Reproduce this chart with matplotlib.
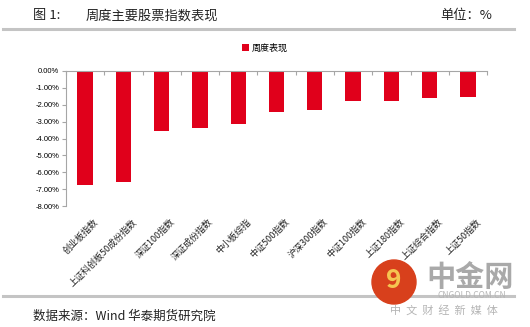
import matplotlib.pyplot as plt
from matplotlib.patches import Ellipse
from matplotlib.lines import Line2D

plt.rcParams['font.family'] = ['Noto Sans CJK SC', 'DejaVu Sans']

indices = ["创业板指数", "上证科创板50成份指数", "深证100指数", "深证成份指数", "中小板综指",
           "中证500指数", "沪深300指数", "中证100指数", "上证180指数", "上证综合指数", "上证50指数"]
weekly = [-6.75, -6.57, -3.55, -3.37, -3.14, -2.43, -2.31, -1.78, -1.78, -1.60, -1.54]
y_ticks = [0, -1, -2, -3, -4, -5, -6, -7, -8]

fig = plt.figure(figsize=(5.3, 3.27), dpi=100)
ax = fig.add_axes([0.1245, 0.37, 0.7945, 0.4129])

x = list(range(len(indices)))
bars = ax.bar(x, weekly, width=0.4, color="#e0001b", label="周度表现", zorder=2)

ax.set_xlim(-0.5, len(indices) - 0.5)
ax.set_ylim(-8, 0)
ax.set_yticks(y_ticks)
ax.set_yticklabels(["%.2f%%" % v for v in y_ticks], fontsize=5.5, family="Liberation Sans")

# x axis sits at 0 (top), ticks at category boundaries
ax.spines["bottom"].set_visible(False)
ax.spines["right"].set_visible(False)
ax.spines["top"].set_color("#a6a6a6")
ax.spines["left"].set_color("#a6a6a6")
ax.xaxis.tick_top()
ax.set_xticks([i - 0.5 for i in range(len(indices) + 1)])
ax.set_xticklabels([])
ax.tick_params(axis="x", direction="in", length=3, color="#a6a6a6", top=True, bottom=False)
ax.tick_params(axis="y", direction="out", length=3, color="#a6a6a6", pad=2)

for i, name in enumerate(indices):
    ax.annotate(name, xy=(i, -8), xytext=(6, -8), textcoords="offset points",
                rotation=45, ha="right", va="top", rotation_mode="anchor",
                fontsize=6.5, color="#222222", annotation_clip=False)

leg = fig.legend(handles=[bars], labels=["周度表现"], loc="center", bbox_to_anchor=(0.5, 0.853),
                 frameon=False, fontsize=6.5, handlelength=0.7, handleheight=0.7, handletextpad=0.3)

# header and footer
fig.text(33 / 530, 1 - 16 / 327, "图 1:", fontsize=9.5, va="center", color="#222222")
fig.text(86 / 530, 1 - 16 / 327, "周度主要股票指数表现", fontsize=9.5, va="center", color="#222222")
fig.text(492 / 530, 1 - 16 / 327, "单位：%", fontsize=9.5, va="center", ha="right", color="#222222")
fig.add_artist(Line2D([3 / 530, 514 / 530], [1 - 28.5 / 327] * 2, color="#c4c4c4", lw=2.2))
fig.add_artist(Line2D([3 / 530, 514 / 530], [1 - 296 / 327] * 2, color="#c4c4c4", lw=2.2))
fig.text(33 / 530, 1 - 316 / 327, "数据来源：Wind 华泰期货研究院", fontsize=9, va="center", color="#222222")

# watermark
fig.add_artist(Ellipse((394 / 530, 1 - 282 / 327), 44 / 530, 44 / 327, transform=fig.transFigure,
                       color="#d8401c", zorder=5))
fig.text(394 / 530, 1 - 281 / 327, "9", fontsize=19, fontweight="bold", ha="center", va="center",
         color="#f5c451", zorder=6)
fig.text(470 / 530, 1 - 277 / 327, "中金网", fontsize=21, fontweight="bold", ha="center", va="center",
         color="#a9a9a9", zorder=6)
fig.text(472 / 530, 1 - 295 / 327, "CNGOLD.COM.CN", fontsize=6, ha="center", va="center",
         color="#b5b5b5", zorder=6)
fig.text(444 / 530, 1 - 310 / 327, "中  文  财  经  新  媒  体", fontsize=8, ha="center", va="center",
         color="#b5b5b5", zorder=6)

plt.savefig("out.png", dpi=100)
